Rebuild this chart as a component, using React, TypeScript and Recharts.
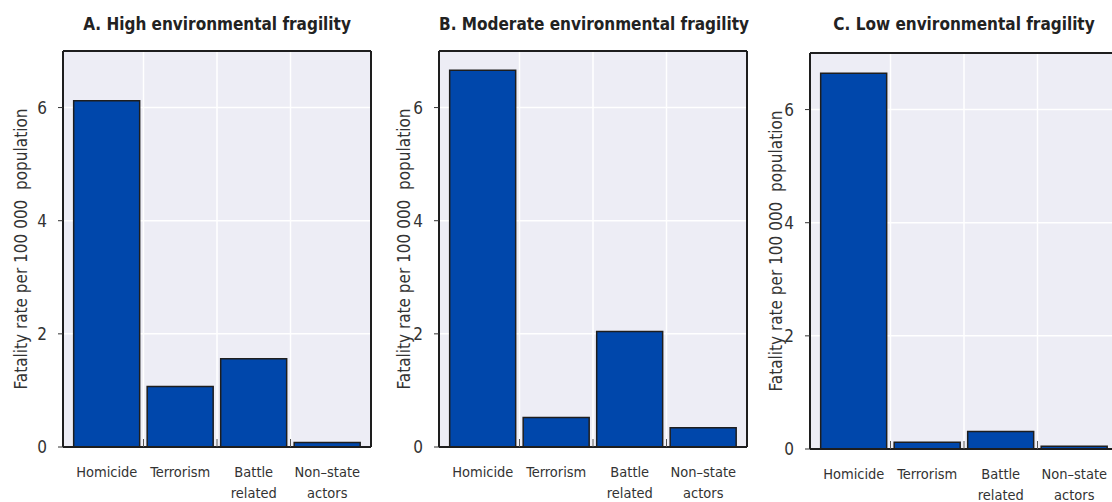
import React from 'react';
import { BarChart, Bar, XAxis, YAxis, CartesianGrid } from 'recharts';

// categories and values
const categories = ['Homicide', 'Terrorism', 'Battle related', 'Non\u2013state actors'];
const categoryLines = [['Homicide'], ['Terrorism'], ['Battle', 'related'], ['Non\u2013state', 'actors']];
const highFragility = [6.12, 1.07, 1.56, 0.08];
const moderateFragility = [6.66, 0.52, 2.04, 0.34];
const lowFragility = [6.64, 0.12, 0.31, 0.05];
const panelTitles = [
  'A. High environmental fragility',
  'B. Moderate environmental fragility',
  'C. Low environmental fragility',
];
const yTicks = [0, 2, 4, 6];
const yLabel = 'Fatality rate per 100 000  population';

const FONT = "'Liberation Sans Narrow', 'DejaVu Sans Condensed', 'Roboto Condensed', 'Liberation Sans', sans-serif";
const BAR_BLUE = '#0047AB';
const EDGE = '#1e1e1e';
const PANEL_BG = '#EDEDF5';

const CHART_W = 380;
const CHART_H = 502;
const Y_AXIS_W = 63;
const PLOT_W = 308;
const PLOT_H = 396;
const PAD = 7;
const BAND = (PLOT_W - 2 * PAD) / categories.length;
const TICK_MARGIN = 8;

const panels = [
  { title: panelTitles[0], values: highFragility, left: 0, top: 51, labelDx: 42 },
  { title: panelTitles[1], values: moderateFragility, left: 376, top: 51, labelDx: 35 },
  { title: panelTitles[2], values: lowFragility, left: 747, top: 53, labelDx: 34 },
];

function CategoryTick(props: any) {
  const { x, y, payload } = props;
  const idx = categories.indexOf(payload.value);
  const lines = categoryLines[idx] ?? [String(payload.value)];
  const axisY = y - TICK_MARGIN;
  return (
    <g>
      {idx > 0 && (
        <line x1={x - BAND / 2} x2={x - BAND / 2} y1={axisY - 8} y2={axisY} stroke="#555" strokeWidth={1} />
      )}
      <text x={x} y={y} textAnchor="middle" fill="#333" fontSize={14.5} fontFamily={FONT}>
        {lines.map((l, i) => (
          <tspan key={i} x={x} dy={i === 0 ? 22 : 21}>{l}</tspan>
        ))}
      </text>
    </g>
  );
}

function Panel({ title, values, left, top, labelDx }: any) {
  const rows = categories.map((name, i) => ({ name, value: values[i] }));
  const bottomH = CHART_H - top - PLOT_H;

  const renderYLabel = (p: any) => {
    const vb = p.viewBox;
    const cx = vb.x + vb.width - labelDx;
    const cy = vb.y + vb.height / 2;
    return (
      <text
        x={cx}
        y={cy}
        transform={`rotate(-90 ${cx} ${cy})`}
        textAnchor="middle"
        dominantBaseline="central"
        fill="#333"
        fontSize={17}
        fontFamily={FONT}
        style={{ whiteSpace: 'pre' }}
      >
        {yLabel}
      </text>
    );
  };

  return (
    <div style={{ position: 'absolute', left, top: 0, width: CHART_W, height: CHART_H }}>
      <div
        style={{
          position: 'absolute',
          left: Y_AXIS_W,
          width: PLOT_W,
          top: 14,
          textAlign: 'center',
          fontFamily: FONT,
          fontWeight: 'bold',
          fontSize: 17,
          letterSpacing: 0,
          color: '#222',
          whiteSpace: 'nowrap',
        }}
      >
        {title}
      </div>
      <BarChart
        width={CHART_W}
        height={CHART_H}
        data={rows}
        margin={{ top, right: CHART_W - Y_AXIS_W - PLOT_W, bottom: 0, left: 0 }}
        barCategoryGap="5%"
      >
        <CartesianGrid
          fill={PANEL_BG}
          stroke="#ffffff"
          strokeWidth={1.5}
          verticalCoordinatesGenerator={({ offset }: any) =>
            categories.slice(1).map((_, i) => offset.left + PAD + (i + 1) * BAND)
          }
        />
        {/* top and right edges of the frame */}
        <CartesianGrid
          fill="none"
          stroke={EDGE}
          strokeWidth={2}
          horizontalCoordinatesGenerator={({ offset }: any) => [offset.top]}
          verticalCoordinatesGenerator={({ offset }: any) => [offset.left + offset.width]}
        />
        <XAxis
          dataKey="name"
          height={bottomH}
          padding={{ left: PAD, right: PAD }}
          tickLine={false}
          tickSize={0}
          tickMargin={TICK_MARGIN}
          axisLine={{ stroke: EDGE, strokeWidth: 2 }}
          tick={<CategoryTick />}
          interval={0}
        />
        <YAxis
          width={Y_AXIS_W}
          domain={[0, 7]}
          ticks={yTicks}
          tickSize={5}
          tickMargin={11}
          tickLine={{ stroke: '#333', strokeWidth: 1 }}
          axisLine={{ stroke: EDGE, strokeWidth: 2 }}
          tick={{ fill: '#333', fontSize: 17, fontFamily: FONT }}
          label={{ content: renderYLabel }}
        />
        <Bar dataKey="value" fill={BAR_BLUE} stroke={EDGE} strokeWidth={1.5} isAnimationActive={false} />
      </BarChart>
    </div>
  );
}

export default function App() {
  return (
    <div
      style={{
        position: 'absolute',
        left: 0,
        top: 0,
        width: 1112,
        height: 502,
        overflow: 'hidden',
        background: '#ffffff',
      }}
    >
      {panels.map((p) => (
        <Panel key={p.title} {...p} />
      ))}
    </div>
  );
}
